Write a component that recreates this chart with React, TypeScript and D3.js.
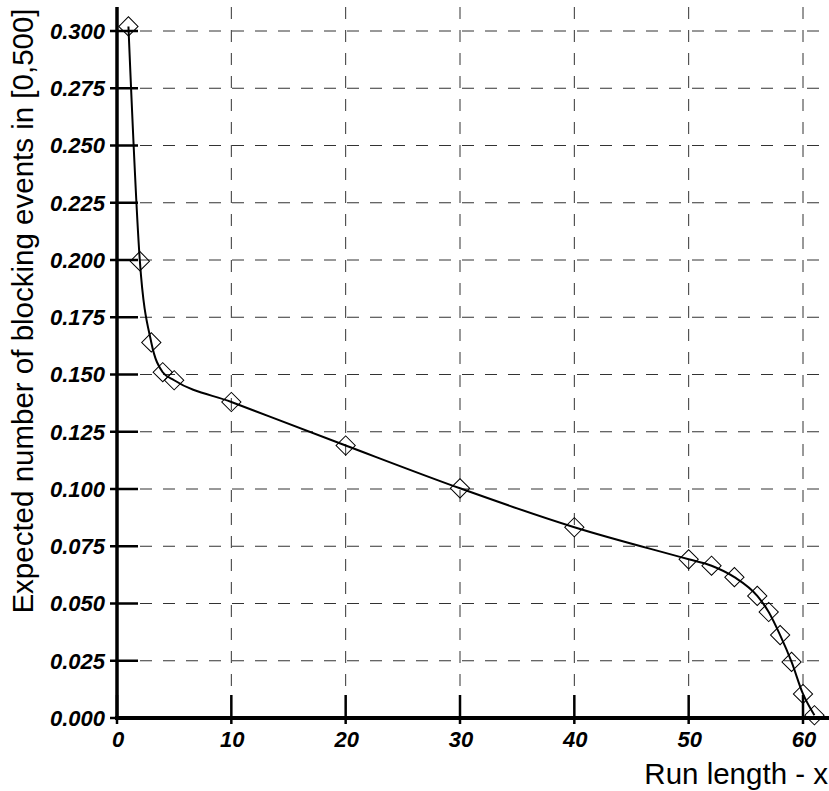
import React from 'react';
import * as d3 from 'd3';

const runLengths = [1, 2, 3, 4, 5, 10, 20, 30, 40, 50, 52, 54, 56, 57, 58, 59, 60, 61];
const expectedBlocking = [
  0.302, 0.1995, 0.164, 0.151, 0.1475, 0.138, 0.119, 0.1003, 0.0833, 0.0693,
  0.0665, 0.0615, 0.0533, 0.0463, 0.0362, 0.0245, 0.0105, 0.0012,
];
const xTicks = [0, 10, 20, 30, 40, 50, 60];
const yTicks = [0, 0.025, 0.05, 0.075, 0.1, 0.125, 0.15, 0.175, 0.2, 0.225, 0.25, 0.275, 0.3];

const W = 829;
const H = 791;
const FONT = '"Liberation Sans", Arial, sans-serif';

const App = () => {
  const x = d3.scaleLinear().domain([0, 60]).range([117, 803]);
  const y = d3.scaleLinear().domain([0, 0.3]).range([718, 31]);
  const xEnd = W;
  const yTop = 7;

  const points = runLengths.map((r, i) => ({ r, v: expectedBlocking[i] }));

  const line = d3.line<{ r: number; v: number }>()
    .x(d => x(d.r))
    .y(d => y(d.v))
    .curve(d3.curveMonotoneX);

  const diamond = d3.symbol().type(d3.symbolSquare).size(185)();

  return (
    <svg width={W} height={H} style={{ position: 'absolute', left: 0, top: 0, background: '#fff' }}>
      {/* grid */}
      <g stroke="#333" strokeWidth={1} strokeDasharray="12,11">
        {xTicks.filter(t => t > 0).map(t => (
          <line key={'gx' + t} x1={x(t)} x2={x(t)} y1={yTop} y2={y(0)} />
        ))}
        {yTicks.filter(t => t > 0).map(t => (
          <line key={'gy' + t} x1={x(0)} x2={xEnd} y1={y(t)} y2={y(t)} />
        ))}
      </g>

      {/* series */}
      <path d={line(points) || ''} fill="none" stroke="#000" strokeWidth={2} />
      {points.map(p => (
        <path
          key={'m' + p.r}
          d={diamond || ''}
          transform={`translate(${x(p.r)},${y(p.v)}) rotate(45)`}
          fill="none"
          stroke="#000"
          strokeWidth={1}
        />
      ))}

      {/* axes */}
      <line x1={x(0)} x2={x(0)} y1={yTop} y2={y(0) + 2} stroke="#000" strokeWidth={3.5} />
      <line x1={x(0) - 2} x2={xEnd} y1={y(0)} y2={y(0)} stroke="#000" strokeWidth={4} />
      {yTicks.map(t => (
        <g key={'ty' + t}>
          <line x1={x(0) - 7} x2={x(0) + 21} y1={y(t)} y2={y(t)} stroke="#000" strokeWidth={2.5} />
          <text
            x={x(0) - 12}
            y={y(t)}
            dy="0.36em"
            textAnchor="end"
            fontFamily={FONT}
            fontWeight="bold"
            fontStyle="italic"
            fontSize={22}
          >
            {d3.format('.3f')(t)}
          </text>
        </g>
      ))}
      {xTicks.map(t => (
        <g key={'tx' + t}>
          <line x1={x(t)} x2={x(t)} y1={y(0) - 23} y2={y(0) + 6} stroke="#000" strokeWidth={2.5} />
          <text
            x={x(t) + 1}
            y={747}
            textAnchor="middle"
            fontFamily={FONT}
            fontWeight="bold"
            fontStyle="italic"
            fontSize={22}
          >
            {t}
          </text>
        </g>
      ))}

      {/* titles */}
      <text
        transform={`translate(33,311) rotate(-90)`}
        textAnchor="middle"
        fontFamily={FONT}
        fontSize={29.5}
      >
        Expected number of blocking events in [0,500]
      </text>
      <text x={828} y={784} textAnchor="end" fontFamily={FONT} fontSize={29.5}>
        Run length - x
      </text>
    </svg>
  );
};

export default App;
